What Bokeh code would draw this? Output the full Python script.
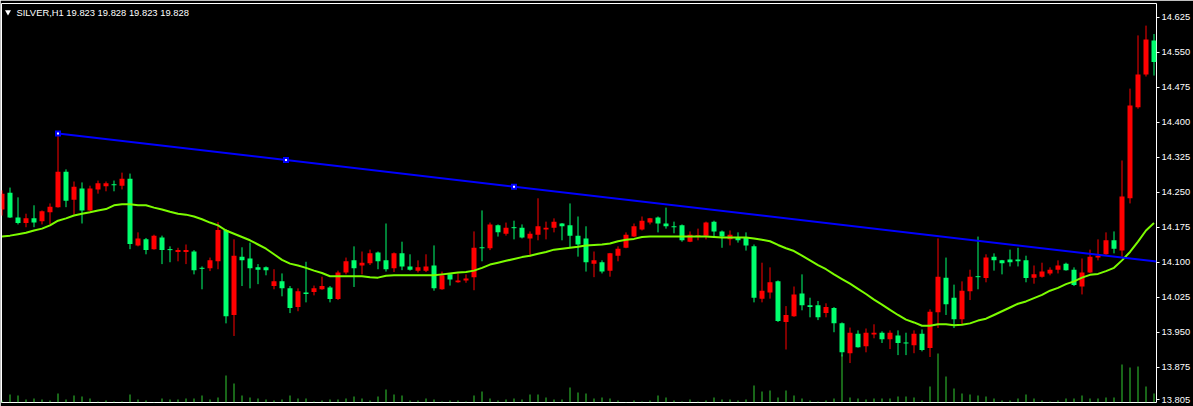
from bokeh.plotting import figure
from bokeh.models import Range1d, FixedTicker, PrintfTickFormatter, ColumnDataSource, Label
from bokeh.embed import file_html
from bokeh.resources import INLINE

# ---------------- data: SILVER H1 candles ----------------
opens = [
    14.247, 14.196, 14.184, 14.194, 14.185, 14.209, 14.219, 14.294, 14.232, 14.262,
    14.211, 14.258, 14.269, 14.269, 14.266, 14.279, 14.139, 14.151, 14.126, 14.157,
    14.126, 14.127, 14.126, 14.126, 14.083, 14.087, 14.104, 14.169, 13.984, 14.114,
    14.104, 14.087, 14.084, 14.083, 14.059, 14.044, 14.002, 14.038, 14.032, 14.044,
    14.049, 14.021, 14.078, 14.102, 14.087, 14.099, 14.119, 14.102, 14.085, 14.119,
    14.091, 14.084, 14.089, 14.091, 14.044, 14.072, 14.063, 14.061, 14.065, 14.131,
    14.131, 14.181, 14.164, 14.174, 14.174, 14.153, 14.161, 14.177, 14.174, 14.187,
    14.177, 14.157, 14.138, 14.100, 14.104, 14.080, 14.119, 14.129, 14.159, 14.177,
    14.189, 14.194, 14.183, 14.177, 14.176, 14.147, 14.159, 14.158, 14.185, 14.166,
    14.155, 14.159, 14.147, 14.136, 14.024, 14.039, 14.057, 13.974, 13.987, 14.031,
    14.008, 14.004, 13.982, 14.004, 13.969, 13.907, 13.949, 13.918, 13.949, 13.949,
    13.935, 13.949, 13.927, 13.927, 13.947, 13.912, 13.994, 14.069, 14.010, 13.978,
    14.039, 14.069, 14.069, 14.110, 14.104, 14.098, 14.100, 14.102, 14.066, 14.074,
    14.080, 14.084, 14.093, 14.083, 14.051, 14.078, 14.112, 14.114, 14.147, 14.129,
    14.241, 14.436, 14.502, 14.577, 14.529,
]
highs = [
    14.254, 14.260, 14.239, 14.204, 14.222, 14.211, 14.226, 14.376, 14.299, 14.273,
    14.271, 14.264, 14.275, 14.273, 14.275, 14.292, 14.290, 14.164, 14.152, 14.159,
    14.157, 14.134, 14.131, 14.138, 14.126, 14.091, 14.110, 14.186, 14.171, 14.149,
    14.132, 14.142, 14.096, 14.091, 14.085, 14.076, 14.049, 14.044, 14.101, 14.050,
    14.069, 14.049, 14.082, 14.110, 14.134, 14.123, 14.127, 14.123, 14.183, 14.121,
    14.144, 14.117, 14.104, 14.117, 14.136, 14.080, 14.076, 14.076, 14.074, 14.166,
    14.211, 14.185, 14.181, 14.185, 14.189, 14.181, 14.166, 14.237, 14.187, 14.194,
    14.184, 14.226, 14.198, 14.177, 14.123, 14.104, 14.120, 14.134, 14.164, 14.183,
    14.198, 14.195, 14.198, 14.217, 14.187, 14.181, 14.166, 14.172, 14.187, 14.189,
    14.168, 14.168, 14.164, 14.164, 14.138, 14.099, 14.089, 14.061, 14.006, 14.048,
    14.074, 14.024, 14.017, 14.012, 14.004, 13.971, 13.960, 13.954, 13.958, 13.967,
    13.952, 13.954, 13.954, 13.949, 13.954, 13.956, 13.999, 14.151, 14.110, 14.052,
    14.059, 14.084, 14.155, 14.117, 14.119, 14.105, 14.127, 14.131, 14.114, 14.093,
    14.099, 14.089, 14.104, 14.099, 14.089, 14.108, 14.127, 14.149, 14.164, 14.166,
    14.318, 14.472, 14.586, 14.607, 14.589,
]
lows = [
    14.200, 14.195, 14.181, 14.175, 14.175, 14.181, 14.181, 14.217, 14.218, 14.202,
    14.183, 14.209, 14.247, 14.252, 14.252, 14.256, 14.128, 14.134, 14.117, 14.127,
    14.096, 14.100, 14.102, 14.096, 14.074, 14.042, 14.081, 14.085, 13.969, 13.942,
    14.049, 14.044, 14.053, 14.072, 14.042, 14.027, 13.991, 13.995, 14.014, 14.029,
    14.041, 14.014, 14.019, 14.074, 14.047, 14.074, 14.094, 14.085, 14.080, 14.079,
    14.083, 14.082, 14.078, 14.079, 14.039, 14.041, 14.050, 14.056, 14.056, 14.040,
    14.102, 14.126, 14.155, 14.157, 14.149, 14.151, 14.112, 14.147, 14.149, 14.164,
    14.147, 14.131, 14.112, 14.080, 14.068, 14.076, 14.069, 14.102, 14.130, 14.154,
    14.168, 14.181, 14.164, 14.172, 14.162, 14.144, 14.143, 14.147, 14.149, 14.155,
    14.131, 14.136, 14.142, 14.125, 14.014, 14.014, 14.022, 13.972, 13.913, 13.983,
    13.997, 13.982, 13.976, 13.982, 13.950, 13.898, 13.884, 13.917, 13.907, 13.937,
    13.927, 13.914, 13.901, 13.901, 13.905, 13.909, 13.897, 13.959, 13.987, 13.959,
    13.967, 14.019, 14.042, 14.057, 14.082, 14.074, 14.091, 14.091, 14.057, 14.054,
    14.067, 14.072, 14.076, 14.082, 14.049, 14.031, 14.077, 14.104, 14.116, 14.119,
    14.112, 14.226, 14.429, 14.498, 14.500,
]
closes = [
    14.213, 14.249, 14.196, 14.184, 14.194, 14.188, 14.207, 14.218, 14.294, 14.234,
    14.258, 14.211, 14.256, 14.263, 14.266, 14.264, 14.279, 14.136, 14.149, 14.128,
    14.153, 14.127, 14.122, 14.122, 14.123, 14.087, 14.087, 14.102, 14.169, 13.987,
    14.112, 14.108, 14.089, 14.089, 14.049, 14.059, 14.044, 14.004, 14.035, 14.036,
    14.042, 14.046, 14.021, 14.078, 14.104, 14.093, 14.098, 14.121, 14.104, 14.087,
    14.119, 14.091, 14.082, 14.082, 14.093, 14.042, 14.074, 14.057, 14.061, 14.068,
    14.131, 14.130, 14.179, 14.161, 14.174, 14.174, 14.151, 14.159, 14.170, 14.174,
    14.183, 14.179, 14.157, 14.151, 14.097, 14.100, 14.082, 14.114, 14.131, 14.155,
    14.170, 14.185, 14.196, 14.183, 14.176, 14.179, 14.144, 14.155, 14.157, 14.187,
    14.166, 14.149, 14.153, 14.153, 14.134, 14.022, 14.035, 14.059, 13.972, 13.984,
    14.033, 14.008, 14.008, 13.991, 14.002, 13.969, 13.905, 13.947, 13.920, 13.945,
    13.949, 13.935, 13.943, 13.927, 13.922, 13.947, 13.916, 13.993, 14.067, 14.024,
    13.978, 14.038, 14.069, 14.066, 14.112, 14.104, 14.106, 14.106, 14.104, 14.067,
    14.069, 14.076, 14.084, 14.097, 14.084, 14.048, 14.078, 14.110, 14.117, 14.147,
    14.125, 14.237, 14.432, 14.502, 14.575,
]
# tick volumes
volumes = [
    60, 240, 210, 90, 120, 90, 60, 270, 90, 210,
    180, 120, 30, 60, 30, 30, 240, 90, 60, 15,
    120, 90, 90, 120, 120, 210, 90, 150, 810, 570,
    210, 150, 120, 90, 60, 90, 210, 120, 120, 30,
    60, 90, 90, 120, 180, 120, 60, 180, 390, 240,
    210, 60, 60, 120, 90, 30, 60, 60, 30, 210,
    330, 120, 60, 90, 120, 90, 240, 240, 150, 90,
    90, 450, 300, 270, 120, 150, 120, 60, 15, 60,
    30, 60, 210, 150, 60, 30, 90, 30, 60, 150,
    90, 90, 60, 90, 510, 330, 360, 150, 360, 210,
    120, 60, 30, 60, 120, 1440, 150, 120, 90, 120,
    120, 120, 180, 180, 150, 60, 480, 1470, 780, 420,
    270, 240, 210, 180, 120, 60, 60, 120, 240, 120,
    60, 30, 60, 120, 120, 210, 120, 120, 150, 150,
    1140, 1050, 1080, 480, 270,
]
# moving average line
ma_values = [
    14.155, 14.157, 14.160, 14.163, 14.168, 14.172, 14.179, 14.189, 14.194, 14.200,
    14.204, 14.207, 14.211, 14.214, 14.222, 14.224, 14.224, 14.222, 14.222, 14.217,
    14.213, 14.208, 14.204, 14.202, 14.198, 14.192, 14.185, 14.179, 14.168, 14.161,
    14.154, 14.147, 14.138, 14.129, 14.117, 14.105, 14.097, 14.093, 14.088, 14.082,
    14.077, 14.070, 14.070, 14.070, 14.070, 14.070, 14.068, 14.067, 14.071, 14.072,
    14.072, 14.072, 14.072, 14.072, 14.072, 14.074, 14.076, 14.078, 14.079, 14.082,
    14.088, 14.095, 14.099, 14.103, 14.107, 14.111, 14.114, 14.118, 14.122, 14.127,
    14.129, 14.131, 14.133, 14.136, 14.137, 14.138, 14.140, 14.145, 14.148, 14.150,
    14.154, 14.155, 14.155, 14.155, 14.155, 14.155, 14.155, 14.155, 14.155, 14.154,
    14.153, 14.153, 14.153, 14.153, 14.151, 14.148, 14.145, 14.137, 14.130, 14.124,
    14.114, 14.104, 14.094, 14.085, 14.074, 14.064, 14.054, 14.043, 14.032, 14.020,
    14.009, 13.998, 13.987, 13.977, 13.971, 13.964, 13.964, 13.967, 13.967, 13.965,
    13.966, 13.969, 13.975, 13.979, 13.987, 13.995, 14.003, 14.011, 14.016, 14.023,
    14.030, 14.039, 14.045, 14.053, 14.059, 14.067, 14.073, 14.075, 14.081, 14.088,
    14.104, 14.122, 14.144, 14.168, 14.184,
]
# trend line anchors (bar index, price)
trend_bars = [7, 64]
trend_prices = [14.376, 14.262]

price_ticks = [13.805, 13.875, 13.950, 14.025, 14.100, 14.175,
               14.250, 14.325, 14.400, 14.475, 14.550, 14.625]
title_text = "SILVER,H1  19.823 19.828 19.823 19.828"

# ---------------- layout ----------------
W, H = 1193, 406
LEFT, RIGHT, TOP, BOTTOM = 1, 37, 3, 4
frame_w = W - LEFT - RIGHT
frame_h = H - TOP - BOTTOM
BAR_PX = 8                      # horizontal pixels per bar
x_start = -(1.5 - LEFT) / BAR_PX
x_end = x_start + frame_w / BAR_PX
y_lo, y_hi = 13.79945, 14.6544
VOL_PER_PX = 30

BULL = "#00FF6E"
BEAR = "#FF0000"
TEXT_FONT = "Liberation Sans"


def px_x(px):
    return x_start + (px - LEFT) / BAR_PX


def px_y(py):
    return y_hi - (py - TOP) / frame_h * (y_hi - y_lo)


n = len(closes)
idx = list(range(n))
colors = [BULL if c >= o else BEAR for o, c in zip(opens, closes)]
src = ColumnDataSource(dict(
    x=idx, open=opens, high=highs, low=lows, close=closes,
    top=[max(o, c) for o, c in zip(opens, closes)],
    bottom=[min(o, c) for o, c in zip(opens, closes)],
    color=colors, vol=volumes, zero=[0] * n, ma=ma_values,
))
doji = [i for i in idx if opens[i] == closes[i]]
doji_src = ColumnDataSource(dict(x=doji, y=[closes[i] for i in doji],
                                 color=[colors[i] for i in doji]))

p = figure(width=W, height=H, output_backend="svg", toolbar_location=None,
           x_range=Range1d(x_start, x_end), y_range=Range1d(y_lo, y_hi),
           x_axis_location=None, y_axis_location="right",
           min_border_left=LEFT, min_border_right=RIGHT,
           min_border_top=TOP, min_border_bottom=BOTTOM,
           background_fill_color="black", border_fill_color="black",
           outline_line_color="white", outline_line_width=1)
p.grid.visible = False
p.extra_y_ranges = {"vol": Range1d(0, frame_h * VOL_PER_PX)}

ax = p.yaxis[0]
ax.ticker = FixedTicker(ticks=price_ticks)
ax.formatter = PrintfTickFormatter(format="%.3f")
ax.axis_line_color = None
ax.major_tick_line_color = "white"
ax.major_tick_out = 3
ax.major_tick_in = 0
ax.minor_tick_line_color = None
ax.major_label_standoff = 2
ax.major_label_text_color = "white"
ax.major_label_text_font = TEXT_FONT
ax.major_label_text_font_size = "9.4px"

# volumes at the bottom
p.segment(x0="x", y0="zero", x1="x", y1="vol", source=src, y_range_name="vol",
          line_color="#32CD32", line_width=1)

# candles
p.segment(x0="x", y0="low", x1="x", y1="high", source=src,
          line_color="color", line_width=1)
p.vbar(x="x", top="top", bottom="bottom", width=5 / BAR_PX, source=src,
       fill_color="color", line_color=None)
p.scatter(x="x", y="y", source=doji_src, marker="dash", size=5,
          line_color="color", line_width=1)

# moving average
p.line(x="x", y="ma", source=src, line_color="#7CFC00", line_width=2)

# trend line extended to the right edge
slope = (trend_prices[1] - trend_prices[0]) / (trend_bars[1] - trend_bars[0])
end_price = trend_prices[0] + slope * (x_end - trend_bars[0])
p.line(x=[trend_bars[0], x_end], y=[trend_prices[0], end_price],
       line_color="#0000FF", line_width=2)
mid_bar = (trend_bars[0] + trend_bars[1]) / 2
mid_price = (trend_prices[0] + trend_prices[1]) / 2
hx = trend_bars + [mid_bar]
hy = trend_prices + [mid_price]
p.scatter(x=hx, y=hy, marker="square", size=6, fill_color="#0000FF", line_color=None)
p.scatter(x=hx, y=hy, marker="square", size=2, fill_color="white", line_color=None)

# symbol caption
p.scatter(x=[px_x(7.5)], y=[px_y(11.5)], marker="inverted_triangle", size=6,
          fill_color="white", line_color=None)
p.add_layout(Label(x=px_x(16), y=px_y(12), text=title_text,
                   text_baseline="middle", text_align="left",
                   text_color="white", text_font=TEXT_FONT, text_font_size="9.4px"))

open("out.html", "w").write(file_html(p, INLINE))
